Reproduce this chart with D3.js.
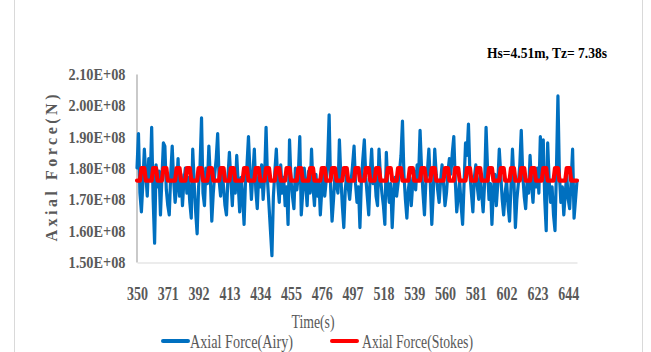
<!DOCTYPE html>
<html>
<head>
<meta charset="utf-8">
<script src="https://cdn.jsdelivr.net/npm/d3@7"></script>
<style>
  html, body { margin: 0; padding: 0; background: #fff; }
  svg { display: block; }
</style>
</head>
<body>
<svg id="chart" width="651" height="352"></svg>
<script>
// Axial force time history, values in units of 1e6 N, one sample per second from t = 350 s
const timeStart = 350;

const airyForce = [
  180,191,172,166,175,186,178,171,183,176,
  193,170,156,181,174,179,165,177,188,187,
  173,168,165,178,187,176,169,174,183,171,
  178,168,176,180,172,177,169,164,186,175,
  166,159,174,181,196,172,168,180,175,187,
  177,163,172,178,183,191,176,171,180,174,
  168,165,177,185,176,168,179,172,184,175,
  166,177,171,162,176,181,190,179,170,178,
  186,173,167,178,174,181,170,177,193,176,
  168,160,152,171,179,186,175,169,181,172,
  177,168,174,162,189,176,171,167,180,173,
  178,190,165,172,180,175,168,179,172,186,
  174,168,178,171,176,165,173,179,171,176,
  182,197,174,163,170,178,175,172,189,177,
  168,161,173,178,174,170,176,181,187,175,
  169,174,161,176,183,189,177,171,165,178,
  186,175,179,171,168,186,177,172,168,162,
  185,174,169,175,161,172,177,171,175,179,
  184,195,178,170,164,173,177,168,175,179,
  173,181,177,192,180,172,165,176,179,186,
  175,162,172,186,178,173,169,176,181,175,
  168,172,179,183,178,185,190,176,166,171,
  176,168,162,175,188,184,194,178,172,166,
  177,181,174,170,178,172,166,175,193,180,
  170,175,162,173,178,168,175,186,178,170,
  165,172,176,168,163,174,186,176,161,170,
  175,181,192,178,171,167,176,172,184,175,
  169,178,174,180,172,190,178,189,170,160,
  188,176,169,174,165,160,180,203,178,169,
  174,165,172,178,170,167,176,186,164,170,
  176
];

const stokesForce = [
  176,176,176,180,180,180,176,176,176,176,
  176,180,180,180,176,176,176,176,180,180,
  180,176,176,176,176,176,176,180,180,180,
  176,176,176,176,180,180,180,176,176,176,
  176,176,180,180,180,176,176,176,176,180,
  180,180,176,176,176,176,176,180,180,180,
  176,176,176,176,180,180,180,176,176,176,
  176,176,176,180,180,180,176,176,176,176,
  176,180,180,180,176,176,176,176,180,180,
  180,176,176,176,176,180,180,180,176,176,
  176,176,180,180,180,176,176,176,176,176,
  180,180,180,176,176,176,176,176,180,180,
  180,176,176,176,176,176,180,180,180,176,
  176,176,176,180,180,180,176,176,176,176,
  176,180,180,180,176,176,176,176,176,180,
  180,180,176,176,176,176,180,180,180,176,
  176,176,176,180,180,180,176,176,176,176,
  176,180,180,180,176,176,176,176,180,180,
  180,176,176,176,176,176,180,180,180,176,
  176,176,176,176,180,180,180,176,176,176,
  176,180,180,180,176,176,176,176,176,176,
  180,180,180,176,176,176,176,180,180,180,
  176,176,176,176,176,180,180,180,176,176,
  176,176,180,180,180,176,176,176,176,176,
  180,180,180,176,176,176,176,176,180,180,
  180,176,176,176,176,180,180,180,176,176,
  176,176,180,180,180,176,176,176,176,180,
  180,180,176,176,176,176,176,180,180,180,
  176,176,176,176,176,180,180,180,176,176,
  176,176,176,180,180,180,176,176,176,176,
  176
];

const xTickValues = [350, 371, 392, 413, 434, 455, 476, 497, 518, 539, 560, 581, 602, 623, 644];
const yTickValues = [1.5e8, 1.6e8, 1.7e8, 1.8e8, 1.9e8, 2.0e8, 2.1e8];

const seriesNames = ["Axial Force(Airy)", "Axial Force(Stokes)"];
const seriesColors = ["#0070C0", "#FF0000"];
const annotation = "Hs=4.51m, Tz= 7.38s";

const times = d3.range(timeStart, timeStart + airyForce.length);
const toRows = arr => arr.map((v, i) => ({ t: times[i], f: v * 1e6 }));
const series = [
  { name: seriesNames[0], color: seriesColors[0], width: 3.2, rows: toRows(airyForce) },
  { name: seriesNames[1], color: seriesColors[1], width: 4.2, rows: toRows(stokesForce) }
];

const svg = d3.select("#chart");
const serif = "'Liberation Serif', 'Times New Roman', serif";
const textGray = "#595959";

// chart area frame
svg.append("rect")
  .attr("x", 14.5).attr("y", -2)
  .attr("width", 628).attr("height", 360)
  .attr("fill", "#fff").attr("stroke", "#d9d9d9").attr("stroke-width", 1);

const x = d3.scaleLinear().domain([350, 650]).range([137, 577]);
const y = d3.scaleLinear().domain([1.5e8, 2.1e8]).range([262, 74]);

const fmtSci = v => (v / 1e8).toFixed(2) + "E+08";

// y axis
const yAxis = svg.append("g")
  .attr("transform", "translate(136.5,0)")
  .call(d3.axisLeft(y).tickValues(yTickValues).tickFormat(fmtSci).tickSize(0).tickPadding(11));
yAxis.select(".domain").attr("stroke", "#a6a6a6").attr("stroke-width", 1.2);
yAxis.selectAll("text")
  .attr("font-family", serif).attr("font-size", 17).attr("font-weight", "bold")
  .attr("fill", textGray)
  .attr("textLength", 57).attr("lengthAdjust", "spacingAndGlyphs");

// x axis
const xAxis = svg.append("g")
  .attr("transform", "translate(0,262.5)")
  .call(d3.axisBottom(x).tickValues(xTickValues).tickFormat(d3.format("d")).tickSize(0).tickPadding(24));
xAxis.select(".domain").attr("stroke", "#d9d9d9").attr("stroke-width", 1);
xAxis.selectAll("text")
  .attr("font-family", serif).attr("font-size", 19).attr("font-weight", "bold")
  .attr("fill", textGray)
  .attr("textLength", 21).attr("lengthAdjust", "spacingAndGlyphs");

// series lines
const line = d3.line().x(d => x(d.t)).y(d => y(d.f));
svg.append("g").selectAll("path")
  .data(series)
  .join("path")
  .attr("d", d => line(d.rows))
  .attr("fill", "none")
  .attr("stroke", d => d.color)
  .attr("stroke-width", d => d.width)
  .attr("stroke-linejoin", "round")
  .attr("stroke-linecap", "round");

// axis titles
svg.append("text")
  .attr("transform", "translate(57,168) rotate(-90)")
  .attr("text-anchor", "middle")
  .attr("font-family", serif).attr("font-size", 16).attr("font-weight", "bold")
  .attr("fill", textGray)
  .attr("textLength", 147).attr("lengthAdjust", "spacing")
  .text("Axial Force(N)");

svg.append("text")
  .attr("x", 313).attr("y", 328)
  .attr("text-anchor", "middle")
  .attr("font-family", serif).attr("font-size", 19)
  .attr("fill", textGray)
  .attr("textLength", 43).attr("lengthAdjust", "spacingAndGlyphs")
  .text("Time(s)");

// annotation
svg.append("text")
  .attr("x", 487).attr("y", 58)
  .attr("font-family", serif).attr("font-size", 14).attr("font-weight", "bold")
  .attr("fill", "#000")
  .attr("textLength", 120).attr("lengthAdjust", "spacingAndGlyphs")
  .text(annotation);

// legend
const legendItems = [
  { name: seriesNames[0], color: seriesColors[0], x0: 163, tx: 190, tw: 103 },
  { name: seriesNames[1], color: seriesColors[1], x0: 332, tx: 362, tw: 111 }
];
const lg = svg.append("g").selectAll("g").data(legendItems).join("g");
lg.append("line")
  .attr("x1", d => d.x0).attr("x2", d => d.x0 + 25)
  .attr("y1", 341).attr("y2", 341)
  .attr("stroke", d => d.color).attr("stroke-width", 4).attr("stroke-linecap", "round");
lg.append("text")
  .attr("x", d => d.tx).attr("y", 348)
  .attr("font-family", serif).attr("font-size", 19)
  .attr("fill", textGray)
  .attr("textLength", d => d.tw).attr("lengthAdjust", "spacingAndGlyphs")
  .text(d => d.name);
</script>
</body>
</html>
